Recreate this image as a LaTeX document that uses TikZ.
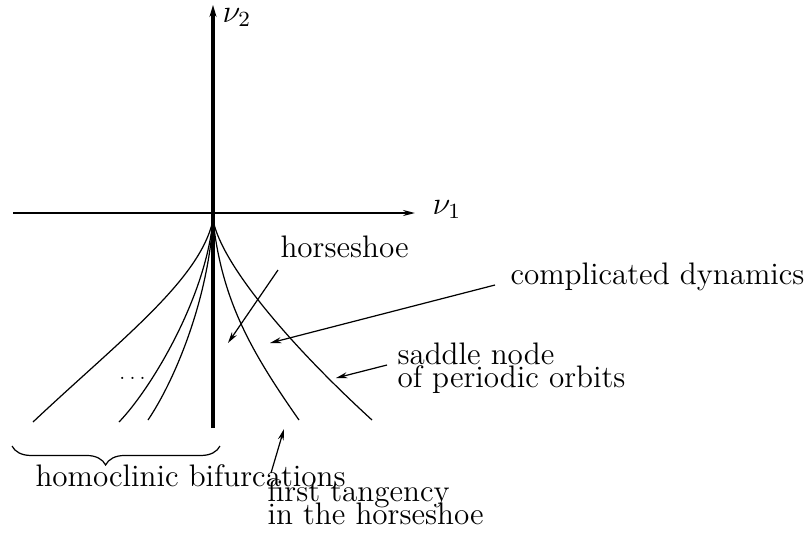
\documentclass[tikz,border=0pt]{standalone}
\usetikzlibrary{arrows.meta,decorations.pathreplacing}
\lineskiplimit=-20pt
\begin{document}
\begin{tikzpicture}[x=0.3695pt,y=-0.3695pt,
  font=\fontsize{11.5}{8.3}\selectfont,
  lbl/.style={inner sep=0pt,anchor=base west,align=left},
  pointer/.style={-{Stealth[length=4.2pt,width=2.2pt]},line width=0.45pt},
  branch/.style={line width=0.45pt}]
  \useasboundingbox (0,0) rectangle (812,535);
  % axes
  \draw[line width=0.8pt,-{Stealth[length=4.4pt,width=2.2pt]}] (13,213) -- (415,213);
  \draw[line width=1.2pt,-{Stealth[length=4.4pt,width=2.6pt]}] (213,428) -- (213,5);
  \node[lbl] (nu1) at (432,214) {$\nu_1$};
  \node[lbl] (nu2) at (222,22) {$\nu_2$};
  % homoclinic branches (left)
  \draw[branch] (213,220) .. controls (200,280) and (120,340) .. (33,422);
  \draw[branch] (213,220) .. controls (205,300) and (150,390) .. (119,422);
  \draw[branch] (213,220) .. controls (208,300) and (175,380) .. (148,420);
  \node[anchor=base,inner sep=0pt,font=\fontsize{7}{8}\selectfont] (dots) at (132.5,379) {$\ldots$};
  % tangency and saddle node branches (right)
  \draw[branch] (213,220) .. controls (222,300) and (250,350) .. (299,420);
  \draw[branch] (213,220) .. controls (222,265) and (290,345) .. (372,420);
  % brace under the homoclinic branches
  \draw[branch,decorate,decoration={brace,mirror,amplitude=7pt,aspect=0.45}] (12,446) -- (220,446);
  % labels (base = last line)
  \node[lbl] (hs) at (280,257) {horseshoe};
  \node[lbl] (cd) at (510,284) {complicated dynamics};
  \node[lbl] (sn) at (397,387) {saddle node\\of periodic orbits};
  \node[lbl] (hb) at (35,486) {homoclinic bifurcations};
  \node[lbl] (ft) at (267,524) {first tangency\\in the horseshoe};
  % pointers
  \coordinate (hs-from) at (278,270);
  \coordinate (hs-to) at (228,343);
  \coordinate (cd-from) at (495,285);
  \coordinate (cd-to) at (270,343);
  \coordinate (sn-from) at (387,365);
  \coordinate (sn-to) at (336,378);
  \coordinate (ft-from) at (271,473);
  \coordinate (ft-to) at (284,429);
  \draw[pointer] (hs-from) -- (hs-to);
  \draw[pointer] (cd-from) -- (cd-to);
  \draw[pointer] (sn-from) -- (sn-to);
  \draw[pointer] (ft-from) -- (ft-to);
\end{tikzpicture}
\end{document}
